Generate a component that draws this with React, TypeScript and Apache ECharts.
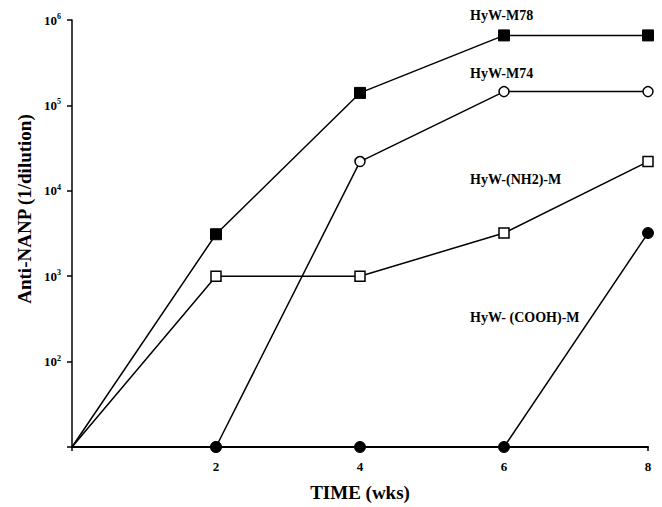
import React, { useEffect, useRef } from "react";
import * as echarts from "echarts";

const weeks = [0, 2, 4, 6, 8];
const hywM78 = [10, 3100, 140000, 660000, 660000];
const hywM74 = [10, 10, 22000, 145000, 145000];
const hywNH2 = [10, 1000, 1000, 3200, 22000];
const hywCOOH = [10, 10, 10, 10, 3200];
const seriesNames = ["HyW-M78", "HyW-M74", "HyW-(NH2)-M", "HyW- (COOH)-M"];
const xTitle = "TIME (wks)";
const yTitle = "Anti-NANP (1/dilution)";

const FONT = "'Liberation Serif', 'Times New Roman', serif";

function mk(vals: number[]) {
  return vals.map((v, i) =>
    i === 0 ? { value: [weeks[i], v], symbol: "none" } : { value: [weeks[i], v] }
  );
}

export default function App() {
  const ref = useRef<HTMLDivElement>(null);
  useEffect(() => {
    const chart = echarts.init(ref.current!, null, { renderer: "svg" });
    const line = { color: "#000", width: 1.5 };
    const lbl = `bold 14px ${FONT}`;
    chart.setOption({
      animation: false,
      backgroundColor: "#fff",
      grid: { left: 72, right: 14, top: 20, bottom: 57 },
      xAxis: {
        type: "value",
        min: 0,
        max: 8,
        interval: 2,
        name: xTitle,
        nameLocation: "middle",
        nameGap: 36,
        nameTextStyle: { fontFamily: FONT, fontWeight: "bold", fontSize: 19, color: "#000" },
        axisLine: { lineStyle: { color: "#000", width: 2 } },
        axisTick: { show: true, length: 4, lineStyle: { color: "#000", width: 1.5 } },
        axisLabel: {
          fontFamily: FONT,
          fontWeight: "bold",
          fontSize: 13,
          color: "#000",
          margin: 13,
          formatter: (v: number) => (v === 0 ? "" : String(v)),
        },
        splitLine: { show: false },
      },
      yAxis: {
        type: "log",
        logBase: 10,
        min: 10,
        max: 1000000,
        axisLine: { show: true, lineStyle: { color: "#000", width: 1.5 } },
        axisTick: { show: true, length: 5, lineStyle: { color: "#000", width: 1.5 } },
        axisLabel: {
          margin: 11,
          formatter: (v: number) => {
            const e = Math.round(Math.log10(v));
            return e <= 1 ? "" : `{b|10}{s|${e}}`;
          },
          rich: {
            b: { fontFamily: FONT, fontWeight: "bold", fontSize: 13, color: "#000" },
            s: {
              fontFamily: FONT,
              fontWeight: "bold",
              fontSize: 8,
              color: "#000",
              padding: [0, 0, 7, 0],
            },
          },
        },
        splitLine: { show: false },
      },
      series: [
        {
          name: seriesNames[0],
          type: "line",
          data: mk(hywM78),
          symbol: "rect",
          symbolSize: 11,
          lineStyle: line,
          itemStyle: { color: "#000", borderColor: "#000" },
          z: 3,
        },
        {
          name: seriesNames[1],
          type: "line",
          data: mk(hywM74),
          symbol: "circle",
          symbolSize: 10,
          lineStyle: line,
          itemStyle: { color: "#fff", borderColor: "#000", borderWidth: 1.5 },
          z: 3,
        },
        {
          name: seriesNames[2],
          type: "line",
          data: mk(hywNH2),
          symbol: "rect",
          symbolSize: 10,
          lineStyle: line,
          itemStyle: { color: "#fff", borderColor: "#000", borderWidth: 1.5 },
          z: 3,
        },
        {
          name: seriesNames[3],
          type: "line",
          data: mk(hywCOOH),
          symbol: "circle",
          symbolSize: 11,
          lineStyle: line,
          itemStyle: { color: "#000", borderColor: "#000" },
          z: 4,
        },
      ],
      graphic: [
        {
          type: "text",
          x: 24,
          y: 209,
          rotation: Math.PI / 2,
          style: {
            text: yTitle,
            font: `bold 19px ${FONT}`,
            fill: "#000",
            align: "center",
            verticalAlign: "middle",
          },
        },
        { type: "text", left: 470, top: 8, style: { text: seriesNames[0], font: lbl, fill: "#000" } },
        { type: "text", left: 470, top: 66, style: { text: seriesNames[1], font: lbl, fill: "#000" } },
        { type: "text", left: 470, top: 172, style: { text: seriesNames[2], font: lbl, fill: "#000" } },
        { type: "text", left: 470, top: 310, style: { text: seriesNames[3], font: lbl, fill: "#000" } },
      ],
    });
    return () => chart.dispose();
  }, []);
  return <div ref={ref} style={{ width: 662, height: 507, position: "absolute", left: 0, top: 0 }} />;
}
